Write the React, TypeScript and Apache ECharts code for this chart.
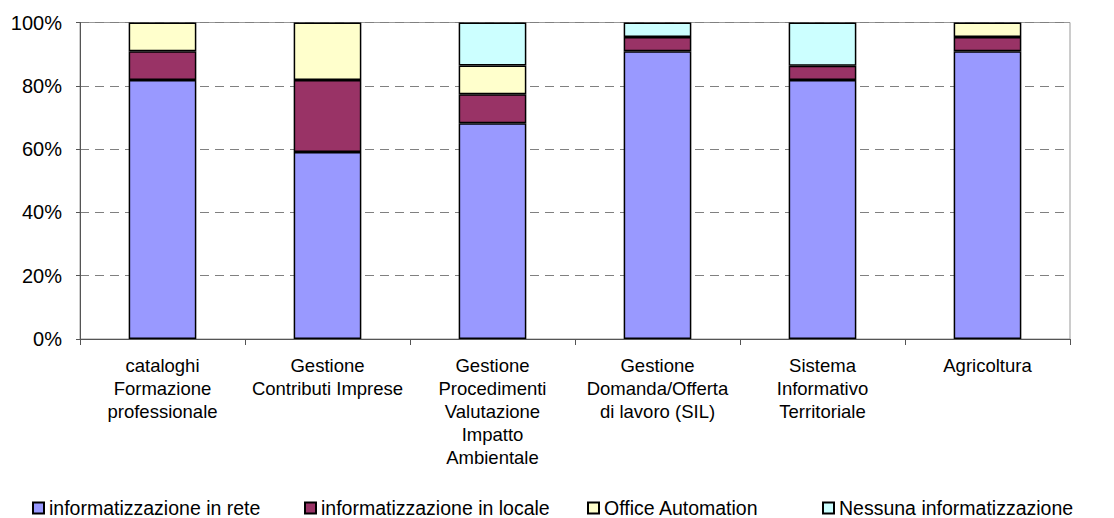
import React, { useEffect, useRef } from "react";
import * as echarts from "echarts";

const categories = [
  "cataloghi\nFormazione\nprofessionale",
  "Gestione\nContributi Imprese",
  "Gestione\nProcedimenti\nValutazione\nImpatto\nAmbientale",
  "Gestione\nDomanda/Offerta\ndi lavoro (SIL)",
  "Sistema\nInformativo\nTerritoriale",
  "Agricoltura",
];

const seriesNames = [
  "informatizzazione in rete",
  "informatizzazione in locale",
  "Office Automation",
  "Nessuna informatizzazione",
];

const inRete = [81.8, 59.1, 68.2, 90.9, 81.8, 90.9];
const inLocale = [9.1, 22.7, 9.1, 4.5, 4.5, 4.5];
const officeAutomation = [9.1, 18.2, 9.1, 0, 0, 4.6];
const nessuna = [0, 0, 13.6, 4.6, 13.7, 0];

const yTicks = [0, 20, 40, 60, 80, 100];

const colors = ["#9999FF", "#993366", "#FFFFCC", "#CCFFFF"];
const legendLeft = [32, 304, 587, 822];

const FONT = "'Liberation Sans', Arial, sans-serif";

export default function App() {
  const ref = useRef<HTMLDivElement>(null);

  useEffect(() => {
    if (!ref.current) return;
    const chart = echarts.init(ref.current, undefined, { renderer: "svg" });
    const values = [inRete, inLocale, officeAutomation, nessuna];
    chart.setOption({
      animation: false,
      backgroundColor: "#ffffff",
      textStyle: { fontFamily: FONT },
      grid: {
        left: 80,
        right: 44,
        top: 22.5,
        bottom: 179,
        show: true,
        borderColor: "#999999",
        borderWidth: 1,
        backgroundColor: "transparent",
      },
      legend: seriesNames.map((n, i) => ({
        data: [n],
        left: legendLeft[i],
        top: 498,
        padding: 0,
        icon: "rect",
        itemWidth: 11,
        itemHeight: 11,
        textStyle: { fontFamily: FONT, fontSize: 19.5, color: "#000", lineHeight: 19 },
      })),
      xAxis: {
        type: "category",
        data: categories,
        axisLine: { lineStyle: { color: "#555", width: 1 } },
        axisTick: { show: true, length: 6, lineStyle: { color: "#555" } },
        axisLabel: {
          interval: 0,
          margin: 15,
          fontFamily: FONT,
          fontSize: 18.5,
          lineHeight: 23,
          color: "#000",
          verticalAlign: "top",
        },
      },
      yAxis: {
        type: "value",
        min: yTicks[0],
        max: yTicks[yTicks.length - 1],
        interval: 20,
        axisLine: { show: true, lineStyle: { color: "#555", width: 1 } },
        axisTick: { show: true, length: 4, lineStyle: { color: "#555" } },
        axisLabel: {
          formatter: "{value}%",
          margin: 18,
          fontFamily: FONT,
          fontSize: 20,
          color: "#000",
        },
        splitLine: {
          show: true,
          lineStyle: { color: "#808080", type: [9, 6], width: 1 },
        },
      },
      series: seriesNames.map((n, i) => ({
        name: n,
        type: "bar",
        stack: "total",
        barWidth: "41%",
        data: values[i].map((v) => (v === 0 ? "-" : v)),
        itemStyle: { color: colors[i], borderColor: "#000", borderWidth: 1.5 },
      })),
    });
    return () => chart.dispose();
  }, []);

  return (
    <div
      ref={ref}
      style={{ position: "fixed", left: 0, top: 0, width: 1114, height: 518 }}
    />
  );
}
